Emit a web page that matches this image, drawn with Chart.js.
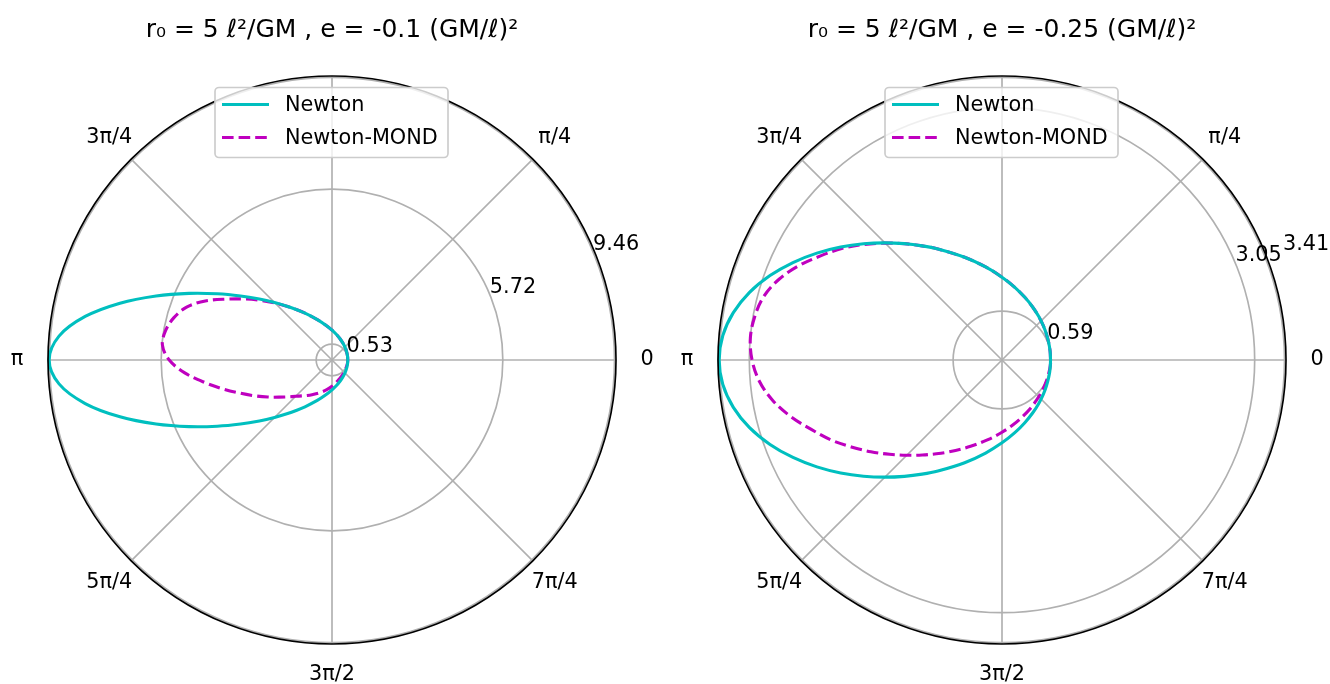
<!DOCTYPE html>
<html>
<head>
<meta charset="utf-8">
<script src="https://cdn.jsdelivr.net/npm/chart.js@4.4.1/dist/chart.umd.min.js"></script>
<style>
  html, body { margin: 0; padding: 0; background: #fff; }
  #wrap { position: relative; width: 1330px; height: 684px; }
  canvas { position: absolute; top: 0; }
</style>
</head>
<body>
<div id="wrap">
  <canvas id="chart-left"  width="665" height="684" style="left:0"></canvas>
  <canvas id="chart-right" width="665" height="684" style="left:665px"></canvas>
</div>
<script>
'use strict';

/* ---------- data (angles in degrees, radii in l²/GM) ---------- */
const ANGLES = [0, 10, 20, 30, 40, 50, 60, 70, 80, 90, 100, 110, 120,
                125, 130, 135, 140, 145, 150, 155, 160, 165, 170, 175, 180,
                185, 190, 195, 200, 205, 210, 215, 220, 225, 230, 235,
                240, 250, 260, 270, 280, 290, 300, 310, 320, 330, 340, 350, 360];

const R_NEWTON_LEFT = [0.528, 0.532, 0.543, 0.564, 0.593, 0.635, 0.691, 0.766, 0.866, 1.000, 1.184, 1.441, 1.809,
                       2.053, 2.353, 2.721, 3.176, 3.741, 4.437, 5.281, 6.269, 7.350, 8.392, 9.176, 9.472,
                       9.176, 8.392, 7.350, 6.269, 5.281, 4.437, 3.741, 3.176, 2.721, 2.353, 2.053,
                       1.809, 1.441, 1.184, 1.000, 0.866, 0.766, 0.691, 0.635, 0.593, 0.564, 0.543, 0.532, 0.528];
const R_MOND_LEFT   = [0.528, 0.532, 0.543, 0.564, 0.593, 0.635, 0.691, 0.766, 0.866, 1.000, 1.184, 1.441, 1.809,
                       2.053, 2.350, 2.700, 3.100, 3.560, 4.080, 4.680, 5.180, 5.480, 5.660, 5.700, 5.450,
                       4.950, 4.330, 3.760, 3.260, 2.840, 2.480, 2.170, 1.920, 1.720, 1.570, 1.450,
                       1.340, 1.160, 1.010, 0.880, 0.770, 0.690, 0.630, 0.590, 0.560, 0.540, 0.530, 0.528, 0.530];

const R_NEWTON_RIGHT = [0.586, 0.590, 0.601, 0.620, 0.649, 0.688, 0.739, 0.805, 0.891, 1.000, 1.140, 1.319, 1.547,
                        1.682, 1.833, 2.000, 2.182, 2.377, 2.580, 2.784, 2.980, 3.155, 3.293, 3.383, 3.414,
                        3.383, 3.293, 3.155, 2.980, 2.784, 2.580, 2.377, 2.182, 2.000, 1.833, 1.682,
                        1.547, 1.319, 1.140, 1.000, 0.891, 0.805, 0.739, 0.688, 0.649, 0.620, 0.601, 0.590, 0.586];
const R_MOND_RIGHT   = [0.586, 0.590, 0.601, 0.620, 0.649, 0.688, 0.739, 0.805, 0.891, 1.000, 1.140, 1.319, 1.547,
                        1.682, 1.833, 1.995, 2.170, 2.350, 2.520, 2.700, 2.860, 2.975, 3.030, 3.049, 3.017,
                        2.940, 2.810, 2.640, 2.450, 2.280, 2.100, 1.932, 1.771, 1.626, 1.497, 1.382,
                        1.280, 1.109, 0.976, 0.872, 0.791, 0.727, 0.679, 0.642, 0.616, 0.598, 0.588, 0.586, 0.591];

const R_TICKS_LEFT   = [0.53, 5.72, 9.46];
const R_TICKS_RIGHT  = [0.59, 3.05, 3.41];
const R_MAX_LEFT     = 9.51;
const R_MAX_RIGHT    = 3.428;

const THETA_TICKS  = [0, 45, 90, 135, 180, 225, 270, 315];
const THETA_LABELS = ['0', 'π/4', '', '3π/4', 'π', '5π/4', '3π/2', '7π/4'];

const TITLE_LEFT  = 'r₀ = 5 ℓ²/GM , e = -0.1 (GM/ℓ)²';
const TITLE_RIGHT = 'r₀ = 5 ℓ²/GM , e = -0.25 (GM/ℓ)²';
const SERIES_NAMES = ['Newton', 'Newton-MOND'];

/* ---------- style ---------- */
const COLORS = { newton: '#00bfbf', mond: '#bf00bf', grid: '#b0b0b0', frame: '#cccccc' };
const FONT = '"DejaVu Sans", "Liberation Sans", sans-serif';
const LW = 3.1;
const DASH = [11.6, 5];

/* polar -> cartesian for the scatter scales */
const toXY = (angles, radii) => angles.map((a, i) => ({
  x: radii[i] * Math.cos(a * Math.PI / 180),
  y: radii[i] * Math.sin(a * Math.PI / 180),
}));

/* grid, spine, labels, title and legend of a matplotlib-like polar axes */
const polarDecor = {
  id: 'polarDecor',
  _geom(chart) {
    const xs = chart.scales.x, ys = chart.scales.y;
    const cx = xs.getPixelForValue(0), cy = ys.getPixelForValue(0);
    const px = v => xs.getPixelForValue(v) - cx;
    return { cx, cy, px, R: px(xs.max) };
  },
  beforeDatasetsDraw(chart, args, opts) {
    const { ctx } = chart;
    const { cx, cy, px, R } = this._geom(chart);
    ctx.save();
    ctx.strokeStyle = COLORS.grid;
    ctx.lineWidth = 1.67;
    opts.rTicks.forEach(v => {
      ctx.beginPath();
      ctx.arc(cx, cy, px(v), 0, Math.PI * 2);
      ctx.stroke();
    });
    THETA_TICKS.forEach(a => {
      const t = a * Math.PI / 180;
      ctx.beginPath();
      ctx.moveTo(cx, cy);
      ctx.lineTo(cx + R * Math.cos(t), cy - R * Math.sin(t));
      ctx.stroke();
    });
    ctx.restore();
  },
  afterDatasetsDraw(chart, args, opts) {
    const { ctx } = chart;
    const { cx, cy, px, R } = this._geom(chart);
    ctx.save();
    /* outer spine */
    ctx.strokeStyle = '#000';
    ctx.lineWidth = 1.67;
    ctx.beginPath();
    ctx.arc(cx, cy, R, 0, Math.PI * 2);
    ctx.stroke();

    ctx.fillStyle = '#000';
    ctx.font = '20.8px ' + FONT;

    /* radial tick labels at 22.5 deg */
    const t0 = 22.5 * Math.PI / 180;
    ctx.textAlign = 'left';
    ctx.textBaseline = 'bottom';
    opts.rTicks.forEach((v, i) => {
      const r = px(v);
      const nudge = (opts.nudge && opts.nudge[i]) || 0;
      ctx.fillText(v.toFixed(2), cx + r * Math.cos(t0) + nudge, cy - r * Math.sin(t0) + 3);
    });

    /* angle labels */
    ctx.textAlign = 'center';
    ctx.textBaseline = 'middle';
    THETA_TICKS.forEach((a, i) => {
      const t = a * Math.PI / 180;
      ctx.fillText(THETA_LABELS[i], cx + (R + 31) * Math.cos(t), cy - (R + 31) * Math.sin(t));
    });

    /* title */
    ctx.font = '25px ' + FONT;
    ctx.textBaseline = 'alphabetic';
    ctx.fillText(opts.title, cx, 37);
    ctx.restore();
  },
  afterDraw(chart) {
    const { ctx } = chart;
    const { cx } = this._geom(chart);
    ctx.save();
    ctx.beginPath();
    ctx.roundRect(cx - 117, 87.5, 233, 70, 4);
    ctx.fillStyle = 'rgba(255,255,255,0.8)';
    ctx.fill();
    ctx.strokeStyle = COLORS.frame;
    ctx.lineWidth = 1.67;
    ctx.stroke();

    const rows = [
      { y: 104.5, color: COLORS.newton, dash: [] },
      { y: 137.5, color: COLORS.mond,   dash: DASH },
    ];
    ctx.font = '20.8px ' + FONT;
    ctx.textAlign = 'left';
    ctx.textBaseline = 'middle';
    rows.forEach((row, i) => {
      ctx.strokeStyle = row.color;
      ctx.lineWidth = LW;
      ctx.setLineDash(row.dash);
      ctx.beginPath();
      ctx.moveTo(cx - 110, row.y);
      ctx.lineTo(cx - 63, row.y);
      ctx.stroke();
      ctx.setLineDash([]);
      ctx.fillStyle = '#000';
      ctx.fillText(SERIES_NAMES[i], cx - 47, row.y + 1);
    });
    ctx.restore();
  },
};

function makePolar(canvasId, rNewton, rMond, rMax, rTicks, title, padding, nudge) {
  const ds = (label, radii, color, dash) => ({
    label,
    data: toXY(ANGLES, radii),
    showLine: true,
    borderColor: color,
    borderWidth: LW,
    borderDash: dash,
    pointRadius: 0,
    pointHoverRadius: 0,
    tension: 0.35,
    fill: false,
    clip: false,
  });
  const axis = { type: 'linear', min: -rMax, max: rMax, display: false };
  return new Chart(document.getElementById(canvasId), {
    type: 'scatter',
    data: {
      datasets: [
        ds(SERIES_NAMES[0], rNewton, COLORS.newton, []),
        ds(SERIES_NAMES[1], rMond,   COLORS.mond,   DASH),
      ],
    },
    options: {
      responsive: false,
      animation: false,
      layout: { padding },
      scales: { x: axis, y: axis },
      plugins: {
        legend: { display: false },
        tooltip: { enabled: false },
        polarDecor: { rTicks, title, nudge },
      },
    },
    plugins: [polarDecor],
  });
}

makePolar('chart-left', R_NEWTON_LEFT, R_MOND_LEFT, R_MAX_LEFT, R_TICKS_LEFT, TITLE_LEFT,
  { left: 48, right: 49, top: 76, bottom: 40 }, null);
makePolar('chart-right', R_NEWTON_RIGHT, R_MOND_RIGHT, R_MAX_RIGHT, R_TICKS_RIGHT, TITLE_RIGHT,
  { left: 53, right: 44, top: 76, bottom: 40 }, [0, 0, 20]);
</script>
</body>
</html>
